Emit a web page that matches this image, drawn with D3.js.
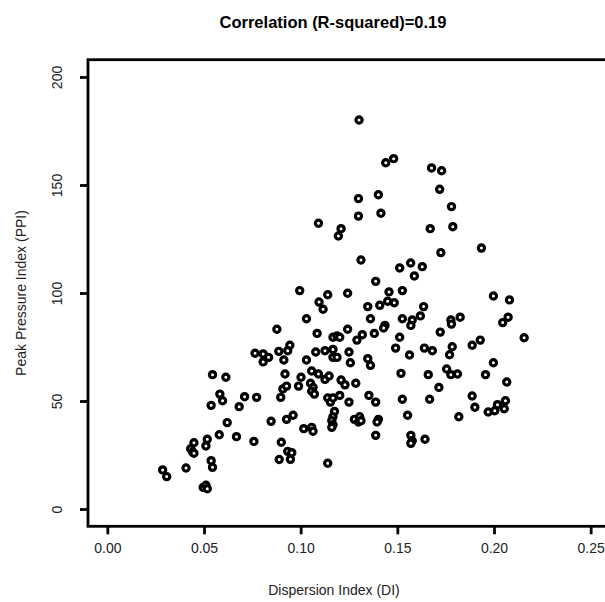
<!DOCTYPE html>
<html><head><meta charset="utf-8">
<script src="https://cdn.jsdelivr.net/npm/d3@7"></script>
<style>body{margin:0;background:#fff}svg{display:block}</style>
</head><body>
<svg id="c" width="605" height="602"></svg>
<script>
const titleText = "Correlation (R-squared)=0.19";
const xLabel = "Dispersion Index (DI)";
const yLabel = "Peak Pressure Index (PPI)";
const xTicks = [0, 0.05, 0.10, 0.15, 0.20, 0.25];
const yTicks = [0, 50, 100, 150, 200];
const di = [
0.1302,0.1440,0.1481,0.1299,0.1402,0.1299,0.1415,0.1092,0.1209,0.1195,
0.1677,0.1729,0.1719,0.1780,0.1670,0.1787,
0.0877,0.0764,0.0806,0.0834,0.0806,0.0887,
0.1312,0.1512,0.1569,0.1388,0.0995,0.1140,0.1243,0.1457,0.1526,0.1095,0.1116,0.1347,0.1409,0.1450,0.1484,
0.1030,0.1361,0.1526,0.1436,0.1429,0.1243,0.1085,0.1381,0.1167,0.1188,0.1202,0.1319,0.1291,0.1512,0.1491,
0.0944,0.0933,0.1078,0.1126,0.1167,0.1250,0.1167,0.1188,0.0913,0.1030,0.1257,0.1347,0.1361,0.1057,
0.1577,0.1570,0.1563,
0.1725,0.1935,0.1629,0.1588,0.1997,0.2080,0.1636,0.1619,0.1777,0.1780,0.1825,0.2073,0.2045,0.1722,0.2156,
0.1929,0.1887,0.1640,0.1681,0.1784,0.1770,0.1997,0.1755,
0.0544,0.0613,0.0582,0.0596,0.0537,0.0682,0.0710,0.0772,0.0620,0.0847,0.0579,0.0668,0.0758,0.0448,0.0517,
0.0510,0.0431,0.0441,0.0448,0.0537,0.0544,0.0407,0.0286,0.0307,0.0496,0.0510,0.0517,0.0889,0.0897,0.0900,0.0908,
0.0919,0.1002,0.1092,0.1126,0.1147,0.1209,0.1229,0.1285,0.1519,0.0927,0.0989,0.1051,0.1064,0.1057,0.1071,
0.1140,0.1154,0.1167,0.1202,0.1250,0.1353,0.1388,0.1526,0.1175,0.1167,0.1161,0.1167,0.1161,0.0927,0.0961,
0.1278,0.1305,0.1299,0.1312,0.1402,0.1395,0.1553,0.1016,0.1057,0.1064,0.1388,0.0933,0.0954,0.0947,0.1140,
0.1660,0.1777,0.1811,0.1956,0.2066,0.1715,0.1667,0.1887,0.1901,0.1970,0.2004,0.2018,0.2059,0.2053,0.1818,
0.1570,0.1577,0.1570,0.1643
];
const ppi = [
180.1,160.3,162.2,143.7,145.5,135.6,136.9,132.3,129.8,126.4,
157.9,156.6,148.0,140.0,129.8,130.7,
83.2,72.1,71.8,70.2,68.1,73.0,
115.3,111.6,113.9,105.4,101.1,99.2,99.9,100.5,101.1,95.8,92.5,93.7,94.3,96.2,95.5,
88.1,88.1,88.1,85.0,83.8,83.2,81.3,81.3,79.5,80.1,79.5,80.7,78.2,79.5,74.5,
75.8,73.3,72.7,73.3,73.9,72.7,70.2,70.2,69.0,69.0,67.7,69.6,66.5,63.9,
87.5,85.0,71.3,
118.7,120.8,112.2,107.9,98.6,96.8,93.7,89.4,87.5,85.6,88.8,88.8,86.3,81.9,79.3,
78.2,75.8,74.5,73.3,75.1,71.4,67.7,64.8,
62.2,61.0,53.2,50.1,48.0,47.4,52.0,51.7,40.0,40.6,34.4,33.5,31.3,30.7,32.3,
29.2,27.9,26.4,25.8,22.4,19.3,19.0,18.1,15.0,10.0,11.0,9.4,22.9,51.7,30.9,55.6,
62.5,61.0,62.5,60.0,61.6,59.7,57.5,58.2,62.8,56.9,56.9,58.2,56.3,54.5,53.2,
51.4,49.5,51.4,52.6,49.5,52.6,49.5,50.8,45.2,42.7,40.9,39.0,37.8,41.5,43.4,
41.5,42.7,40.3,40.9,41.5,40.3,43.4,37.2,37.8,36.0,34.1,26.7,26.1,23.0,21.2,
62.2,62.2,62.5,62.2,58.8,56.3,50.8,52.3,47.1,44.9,45.5,48.3,50.1,46.4,42.7,
34.1,31.6,30.4,32.3
];

const svg = d3.select("#c");
const x = d3.scaleLinear().domain([-0.01, 0.26]).range([88, 610]);
const y = d3.scaleLinear().domain([-8, 208]).range([526.3, 59.7]);
const font = "Liberation Sans, Arial, sans-serif";

// points
svg.append("g").selectAll("circle").data(di.map((d, i) => [d, ppi[i]])).join("circle")
  .attr("cx", d => x(d[0])).attr("cy", d => y(d[1])).attr("r", 3.1)
  .attr("fill", "#fff").attr("stroke", "#000").attr("stroke-width", 3.2);

// frame
svg.append("rect").attr("x", x(-0.01)).attr("y", y(208))
  .attr("width", x(0.26) - x(-0.01)).attr("height", y(-8) - y(208))
  .attr("fill", "none").attr("stroke", "#000").attr("stroke-width", 2.8);

// axes
const xAxis = d3.axisBottom(x).tickValues(xTicks).tickFormat(d3.format(".2f")).tickSize(8).tickPadding(9);
const gx = svg.append("g").attr("transform", `translate(0,${y(-8)})`).call(xAxis);
gx.select(".domain").remove();
gx.selectAll("line").attr("stroke-width", 2.8);
gx.selectAll("text").attr("font-family", font).attr("font-size", 14).attr("fill", "#222");

const yAxis = d3.axisLeft(y).tickValues(yTicks).tickSize(8).tickPadding(10);
const gy = svg.append("g").attr("transform", `translate(${x(-0.01)},0)`).call(yAxis);
gy.select(".domain").remove();
gy.selectAll("line").attr("stroke-width", 2.8);
gy.selectAll("text").attr("font-family", font).attr("font-size", 14).attr("fill", "#222")
  .attr("text-anchor", "middle").attr("dy", 0).attr("x", 0).attr("y", 0)
  .attr("transform", "translate(-26,0) rotate(-90)");

// titles
svg.append("text").attr("x", 333).attr("y", 28).attr("text-anchor", "middle")
  .attr("font-family", font).attr("font-size", 16.5).attr("font-weight", "bold").text(titleText);
svg.append("text").attr("x", 334).attr("y", 595).attr("text-anchor", "middle")
  .attr("font-family", font).attr("font-size", 14).attr("fill", "#222").text(xLabel);
svg.append("text").attr("transform", `translate(26,${y(100)}) rotate(-90)`).attr("text-anchor", "middle")
  .attr("font-family", font).attr("font-size", 14).attr("fill", "#222").text(yLabel);
</script>
</body></html>
